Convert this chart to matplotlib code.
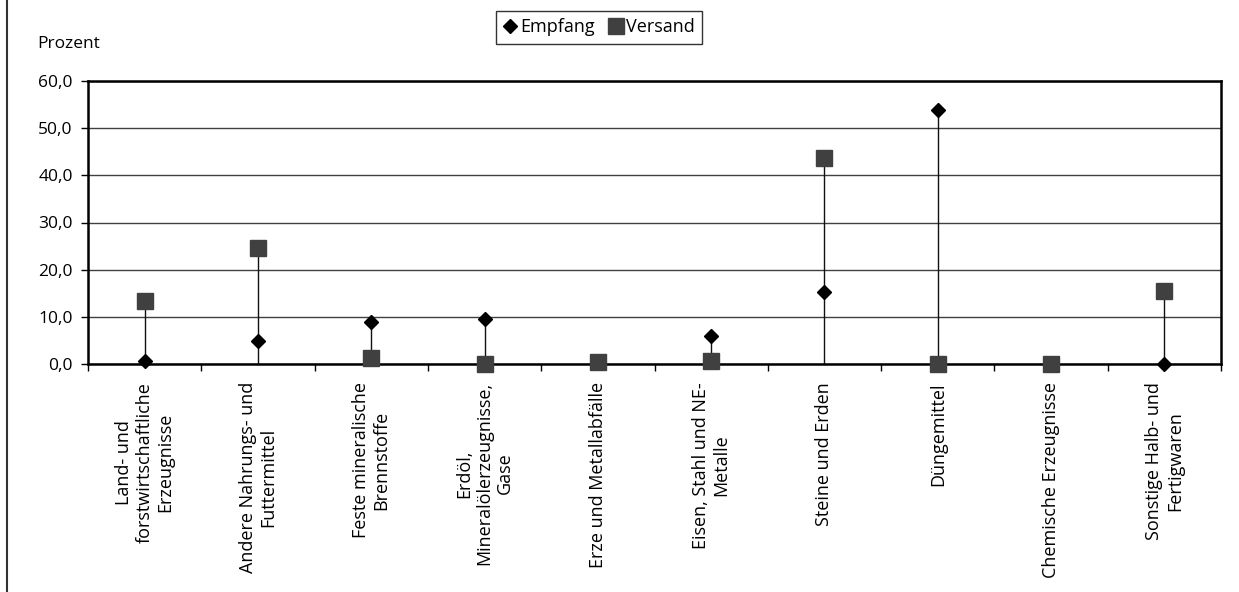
import matplotlib
matplotlib.use("Agg")
import matplotlib.pyplot as plt
from matplotlib.lines import Line2D
import numpy as np

plt.rcParams['font.family'] = ['Open Sans', 'DejaVu Sans']

# Warengruppen
kategorien = [
    "Land- und\nforstwirtschaftliche\nErzeugnisse",
    "Andere Nahrungs- und\nFuttermittel",
    "Feste mineralische\nBrennstoffe",
    "Erdöl,\nMineralölerzeugnisse,\nGase",
    "Erze und Metallabfälle",
    "Eisen, Stahl und NE-\nMetalle",
    "Steine und Erden",
    "Düngemittel",
    "Chemische Erzeugnisse",
    "Sonstige Halb- und\nFertigwaren",
]
empfang = [0.6, 4.9, 8.8, 9.5, 0.5, 5.9, 15.2, 53.8, 0.0, 0.0]
versand = [13.4, 24.5, 1.3, 0.1, 0.5, 0.6, 43.7, 0.0, 0.0, 15.5]
y_ticks = [0, 10, 20, 30, 40, 50, 60]

W, H = 1239, 592
fig = plt.figure(figsize=(W / 100, H / 100), dpi=100)
ax = fig.add_axes([88 / W, 1 - 364 / H, (1221 - 88) / W, (364 - 81) / H])

x = np.arange(1, len(kategorien) + 1)
hoehe = np.maximum(empfang, versand)

# Lotlinien bis zur Achse
ax.vlines(x, 0, hoehe, color="#111111", lw=1, zorder=2)
ax.plot(x, empfang, ls="none", marker="D", ms=7.5, color="black",
        label="Empfang", zorder=3, clip_on=False)
ax.plot(x, versand, ls="none", marker="s", ms=11.5, color="#404040",
        mec="#404040", label="Versand", zorder=4, clip_on=False)

ax.set_xlim(0.5, len(kategorien) + 0.5)
ax.set_ylim(0, 60)
ax.set_yticks(y_ticks)
ax.set_yticklabels([f"{v:.1f}".replace(".", ",") for v in y_ticks], fontsize=12.5)
ax.set_xticks(x)
ax.set_xticklabels(kategorien, rotation=90, fontsize=13, ha="center",
                   va="top", multialignment="center")
ax.set_xticks(np.arange(0.5, len(kategorien) + 1), minor=True)
ax.tick_params(axis="x", which="major", length=0, pad=13)
ax.tick_params(axis="x", which="minor", length=5, width=1, direction="out")
ax.tick_params(axis="y", length=5, width=1, direction="out", pad=6)

ax.grid(axis="y", color="#404040", lw=1)
ax.set_axisbelow(True)
for s in ax.spines.values():
    s.set_linewidth(1.8)
    s.set_color("black")

fig.text(37 / W, 1 - 48 / H, "Prozent", fontsize=12.5, ha="left", va="baseline")

h = [Line2D([], [], ls="none", marker="D", ms=7.5, color="black"),
     Line2D([], [], ls="none", marker="s", ms=11.5, color="#404040")]
leg = fig.legend(h, ["Empfang", "Versand"], loc="center",
                 bbox_to_anchor=(599 / W, 1 - 27.5 / H), ncol=2, fontsize=13,
                 frameon=True, fancybox=False, handlelength=0.8,
                 handletextpad=0.15, columnspacing=0.8, borderpad=0.4,
                 borderaxespad=0)
leg.get_frame().set_edgecolor("black")
leg.get_frame().set_linewidth(1)

# Rahmen links
fig.add_artist(Line2D([7 / W, 7 / W], [0, 1], color="#333333", lw=1.5))

fig.savefig("out.png", dpi=100)
